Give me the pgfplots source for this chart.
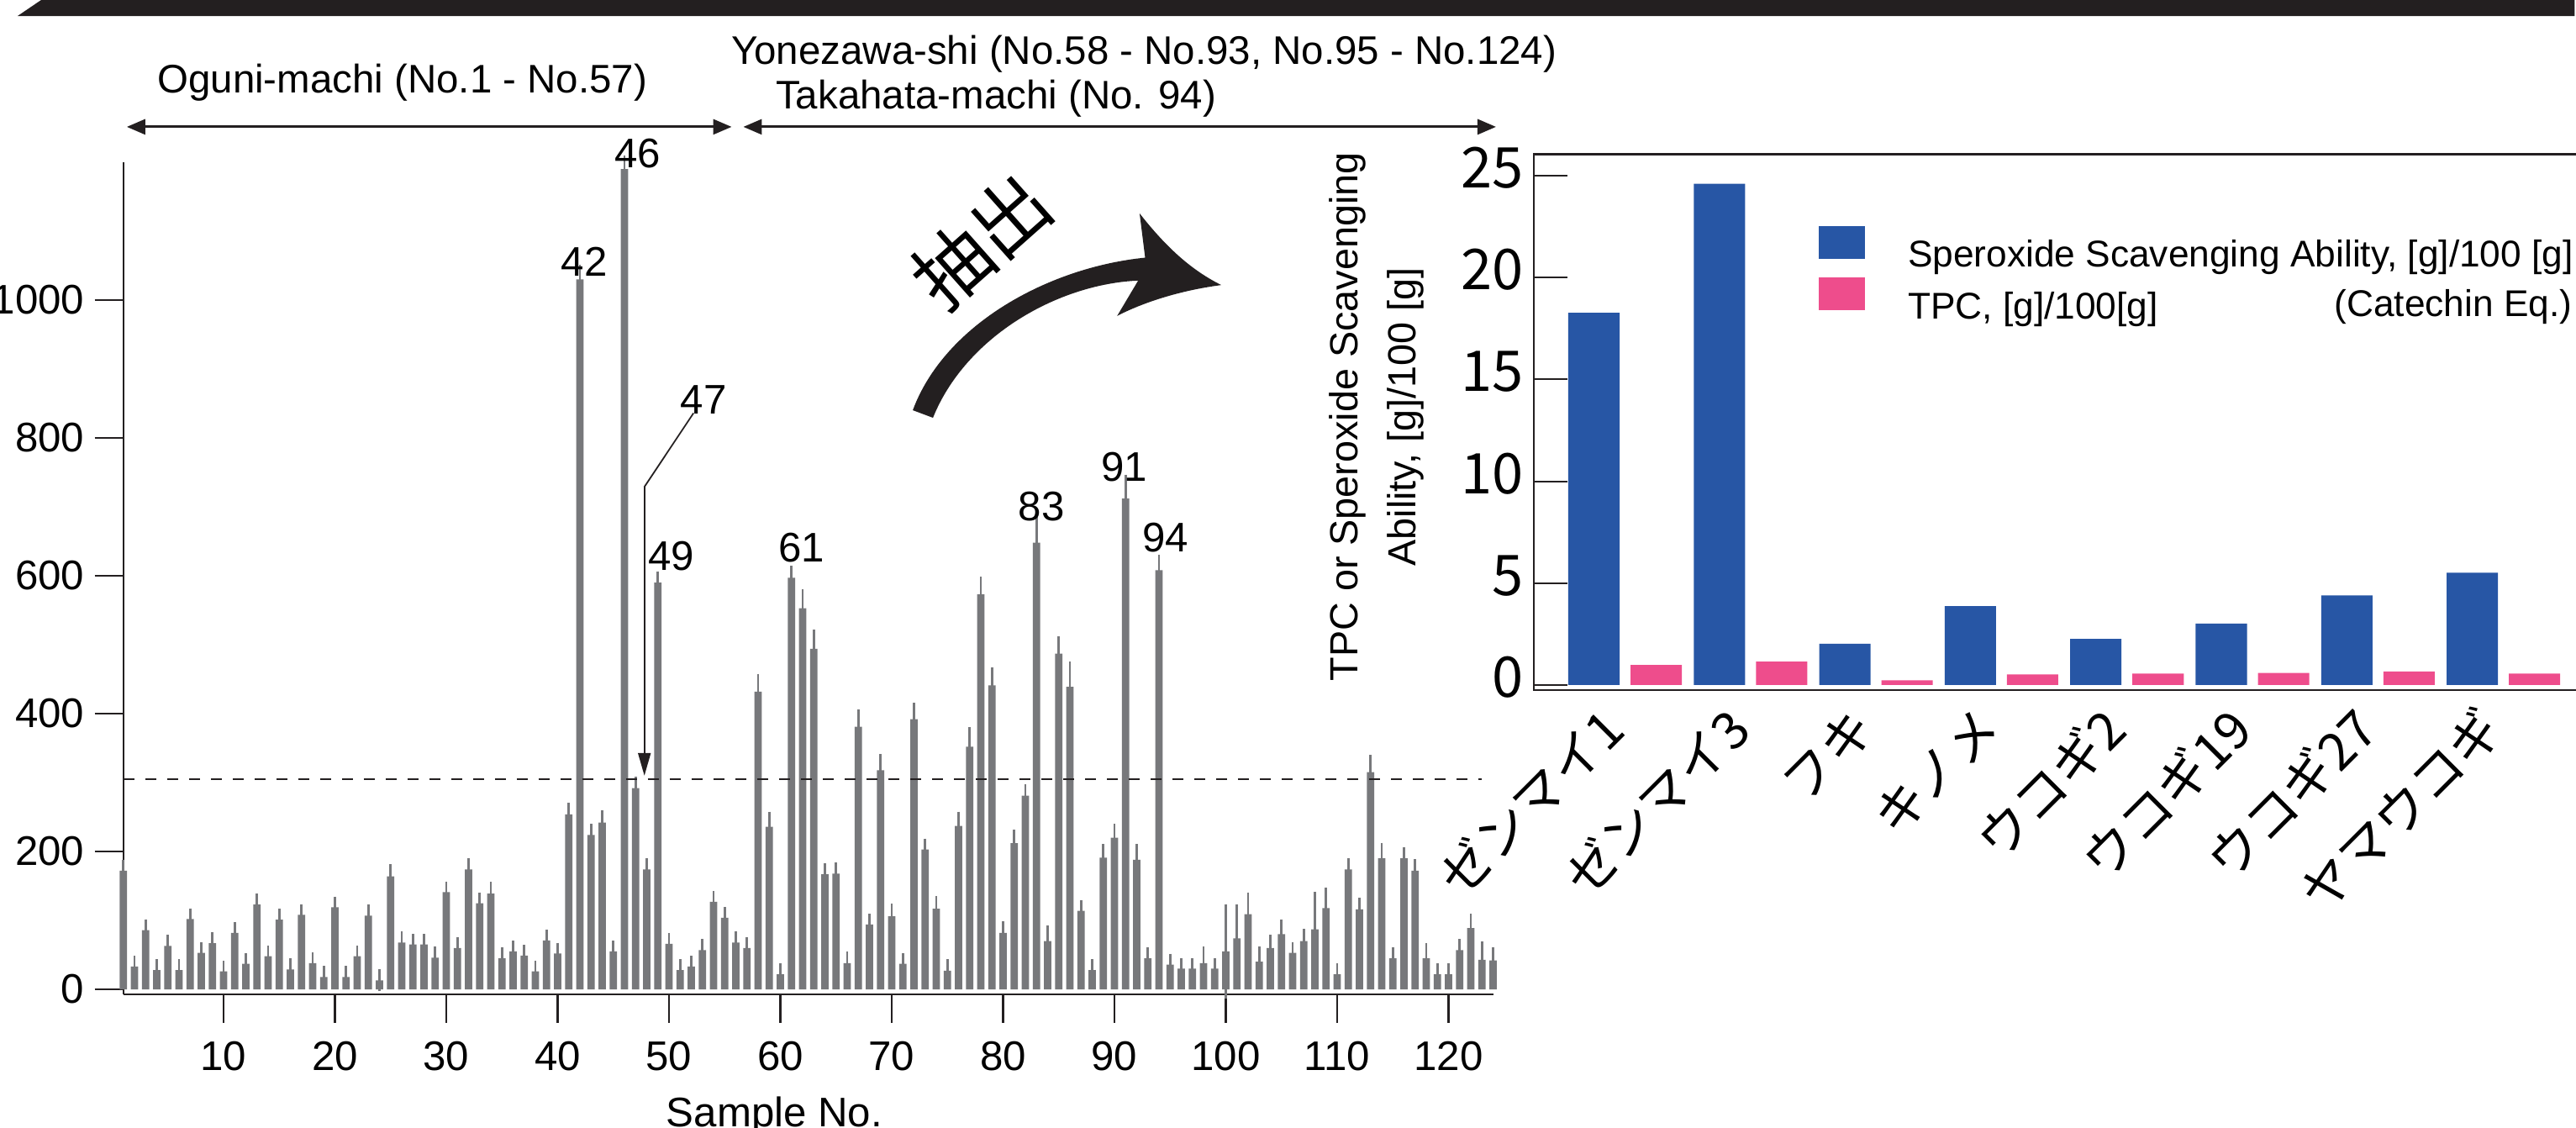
\documentclass[border=0pt]{standalone}
\usepackage{fontspec}
\setmainfont{Liberation Sans}
\newfontfamily\jp{Noto Sans CJK JP}
\usepackage{pgfplots}
\pgfplotsset{compat=1.18}
\usepackage{pgfplotstable}
\usetikzlibrary{arrows.meta}
\definecolor{barg}{HTML}{77787B}
\definecolor{sblue}{HTML}{2756A5}
\definecolor{spink}{HTML}{EE4D8C}
\definecolor{ink}{HTML}{231F20}

\pgfplotstableread{
n v e
1 172 2
2 33 2
3 86 2
4 28 2
5 63 2
6 28 2
7 102 2
8 53 2
9 67 2
10 26 2
11 82 2
12 37 2
13 123 2
14 48 2
15 101 2
16 29 2
17 108 2
18 38 2
19 18 2
20 119 2
21 18 2
22 48 2
23 107 2
24 13 2
25 164 4
26 68 2
27 65 2
28 65 2
29 46 2
30 141 2
31 60 2
32 174 3
33 125 2
34 139 3
35 45 2
36 55 2
37 49 2
38 26 2
39 71 2
40 52 2
41 254 3
42 1030 8
43 224 2
44 242 4
45 55 2
46 1190 6
47 292 3
48 174 2
49 590 3
50 66 2
51 28 2
52 33 2
53 57 2
54 127 2
55 104 2
56 68 2
57 60 2
58 432 12
59 236 8
60 22 2
61 597 4
62 553 14
63 494 14
64 167 2
65 168 2
66 38 3
67 381 11
68 94 2
69 318 10
70 106 5
71 37 2
72 392 10
73 203 2
74 117 5
75 27 3
76 237 7
77 352 15
78 573 12
79 441 13
80 82 3
81 212 6
82 281 3
83 648 24
84 70 9
85 487 11
86 439 23
87 114 2
88 28 2
89 191 6
90 220 6
91 712 21
92 188 9
93 45 2
94 608 9
95 36 2
96 30 2
97 30 2
98 38 10
99 30 2
100 55 55
101 74 36
102 109 18
103 40 8
104 60 5
105 80 8
106 53 2
107 70 4
108 87 41
109 118 16
110 22 2
111 174 2
112 116 3
113 315 11
114 190 9
115 45 2
116 190 3
117 172 3
118 45 9
119 22 2
120 22 2
121 57 2
122 89 7
123 43 13
124 42 5
}\samples

\pgfplotstableread{
x ssa tpc
1 18.27 0.98
2 24.60 1.15
3 2.03 0.23
4 3.87 0.52
5 2.26 0.56
6 3.02 0.59
7 4.40 0.66
8 5.51 0.56
}\extract

\begin{document}
\begin{tikzpicture}
% ---------------- left chart ----------------
\begin{axis}[
  at={(1.4675cm,-11.83cm)}, anchor=south west,
  scale only axis, width=16.2975cm, height=9.9cm,
  xmin=1, xmax=124, ymin=-7.3, ymax=1200,
  axis lines=left, axis line style={-, ink, line width=0.6pt},
  clip=false,
  xtick={10,20,...,120}, ytick={0,200,...,1000},
  tick align=outside, tick style={ink, line width=0.6pt},
  major tick length=0.34cm,
  tick label style={font=\fontsize{14}{16}\selectfont, text=black},
  xticklabel style={yshift=-0.1cm},
  /pgf/number format/assume math mode=true,
  /pgf/number format/1000 sep={},
]
\addplot[ybar, bar width=0.66, fill=barg, draw=none,
  error bars/.cd, y dir=both, y explicit,
  error bar style={barg, line width=0.8pt},
  error mark options={barg, line width=0.8pt, mark size=3.2pt}]
  table[x=n, y=v, y error=e] {\samples};
\addplot[ink, line width=0.7pt, dash pattern=on 3.7pt off 3.7pt] coordinates {(1,305) (123,305)};
\begin{scope}[every node/.style={font=\fontsize{14}{16}\selectfont, anchor=base, inner sep=0pt}]
\node at (axis cs:42.4,1035) {42};
\node at (axis cs:47.2,1192) {46};
\node at (axis cs:53.1,835) {47};
\node at (axis cs:50.2,608) {49};
\node at (axis cs:61.9,620) {61};
\node at (axis cs:83.45,680) {83};
\node at (axis cs:90.9,737) {91};
\node at (axis cs:94.6,635) {94};
\end{scope}
\draw[ink, line width=0.5pt] (axis cs:52.2,836) -- (axis cs:47.79,729);
\draw[ink, line width=0.5pt, -{Triangle[length=0.27cm,width=0.15cm]}] (axis cs:47.79,729) -- (axis cs:47.79,310);
\end{axis}

% ---------------- right chart ----------------
\begin{axis}[
  at={(18.25cm,-8.21cm)}, anchor=south west,
  scale only axis, width=12.5cm, height=6.375cm,
  xmin=0.273, xmax=8.646, ymin=-0.25, ymax=26.05,
  axis line style={ink, line width=0.6pt},
  ytick={0,5,...,25}, ytick pos=left, tick align=inside,
  major tick length=0.4cm, tick style={ink, line width=0.6pt},
  xtick={1,...,8},
  xticklabels={ゼンマイ1,ゼンマイ3,フキ,キノメ,ウコギ2,ウコギ19,ウコギ27,ヤマウコギ},
  x tick style={draw=none},
  /pgf/number format/assume math mode=true,
  yticklabel style={font=\jp\fontsize{19}{20}\selectfont, yshift=0.09cm},
  xticklabel style={font=\jp\fontsize{17.5}{18}\selectfont, xshift=-0.05cm, yshift=-0.25cm, rotate=45, anchor=east},
  ylabel={TPC or Speroxide Scavenging\\Ability, [g]/100 [g]},
  ylabel style={font=\fontsize{13.3}{19.6}\selectfont, align=center, at={(axis description cs:-0.15,0.51)}, anchor=center},
  legend style={draw=none, fill=none, at={(axis description cs:0.2712,0.866)}, anchor=north west,
    font=\fontsize{12.6}{15}\selectfont, inner sep=0pt, outer sep=0pt,
    nodes={inner sep=0pt}, row sep=0.07cm, column sep=0.51cm},
  legend cell align=left,
]
\addplot[ybar, bar width=0.409, bar shift=-0.248, fill=sblue, draw=none,
  legend image code/.code={\fill[sblue] (0cm,-0.035cm) rectangle (0.55cm,0.355cm);}]
  table[x=x, y=ssa] {\extract};
\addlegendentry{Speroxide Scavenging Ability, [g]/100 [g]}
\addplot[ybar, bar width=0.409, bar shift=0.248, fill=spink, draw=none,
  legend image code/.code={\fill[spink] (0cm,-0.035cm) rectangle (0.55cm,0.355cm);}]
  table[x=x, y=tpc] {\extract};
\addlegendentry{TPC, [g]/100[g]}
\end{axis}

% ---------------- annotations (pixel frame, y down) ----------------
\begin{scope}[x=0.01cm, y=-0.01cm]
\fill[ink] (21,19) -- (49,0) -- (3065,0) -- (3065,19) -- cycle;
\draw[ink, line width=0.85pt, {Triangle[length=0.22cm,width=0.18cm]}-{Triangle[length=0.22cm,width=0.18cm]}] (151,151) -- (871,151);
\draw[ink, line width=0.85pt, {Triangle[length=0.22cm,width=0.18cm]}-{Triangle[length=0.22cm,width=0.18cm]}] (885,151) -- (1781,151);
\node[font=\fontsize{13.5}{16}\selectfont] at (479,98) {Oguni-machi (No.1 - No.57)};
\node[font=\fontsize{13.5}{16}\selectfont] at (1362,64.5) {Yonezawa-shi (No.58 - No.93, No.95 - No.124)};
\node[font=\fontsize{13.5}{16}\selectfont, anchor=west, inner sep=0pt] at (923,117) {Takahata-machi (No. 94)};
\node[font=\fontsize{14}{16}\selectfont, anchor=base, inner sep=0pt] at (922,1341) {Sample No.};
\node[font=\fontsize{12.6}{15}\selectfont, anchor=east, inner sep=0pt] at (3063,365) {(Catechin Eq.)};
\fill[ink] (1086.7,488.3) .. controls (1125,385) and (1250,318) .. (1363.3,306.7)
  -- (1356.7,254) .. controls (1385,290) and (1415,320) .. (1454,339.3)
  .. controls (1410,345) and (1365,358) .. (1330,376)
  -- (1355,334) .. controls (1260,338) and (1150,400) .. (1110.7,497.3) -- cycle;
\node[rotate=41.6, font=\jp\fontsize{26}{26}\selectfont] at (1168,287) {抽出};
\end{scope}
\pgfresetboundingbox
\path[use as bounding box] (0,0) rectangle (30.65cm,-13.41cm);
\end{tikzpicture}
\end{document}
